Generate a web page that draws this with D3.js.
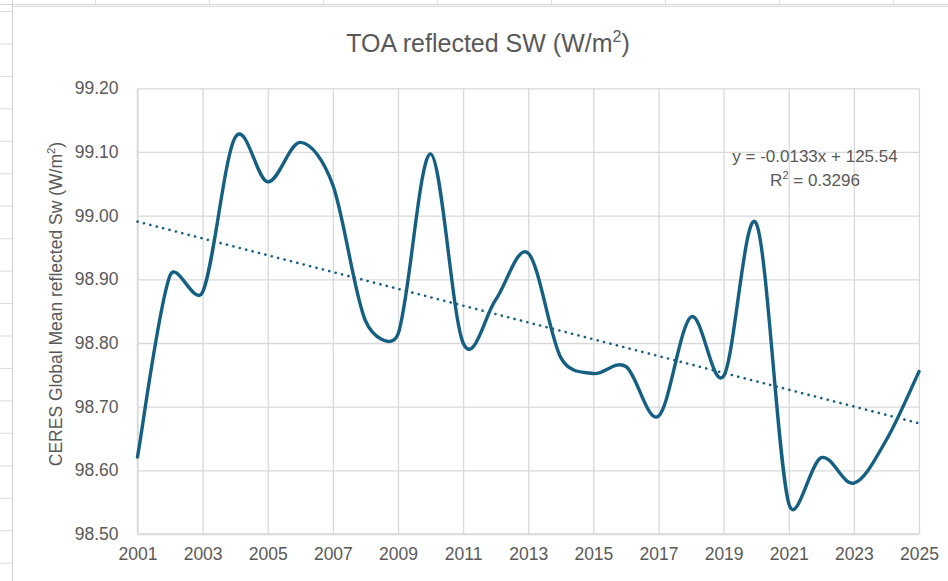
<!DOCTYPE html>
<html>
<head>
<meta charset="utf-8">
<script src="https://cdn.jsdelivr.net/npm/d3@7/dist/d3.min.js"></script>
<style>
  html, body { margin: 0; padding: 0; background: #ffffff; }
  svg { display: block; }
  text { font-family: "Liberation Sans", Arial, sans-serif; fill: #595959; }
</style>
</head>
<body>
<svg id="chart" width="948" height="581"></svg>
<script>
// ---- data ----
const years = [2001, 2002, 2003, 2004, 2005, 2006, 2007, 2008, 2009, 2010, 2011, 2012, 2013,
               2014, 2015, 2016, 2017, 2018, 2019, 2020, 2021, 2022, 2023, 2024, 2025];
const reflectedSW = [98.621, 98.906, 98.880, 99.123, 99.053, 99.115, 99.048, 98.835, 98.814, 99.097,
                     98.800, 98.868, 98.941, 98.777, 98.752, 98.763, 98.685, 98.841, 98.748, 98.988,
                     98.548, 98.620, 98.580, 98.648, 98.755];
const yTicks = [98.50, 98.60, 98.70, 98.80, 98.90, 99.00, 99.10, 99.20];
const xTicks = [2001, 2003, 2005, 2007, 2009, 2011, 2013, 2015, 2017, 2019, 2021, 2023, 2025];
const titleText = "TOA reflected SW (W/m";
const yLabelText = "CERES Global Mean reflected Sw (W/m";
const equationText = "y = -0.0133x + 125.54";
const r2Text = "= 0.3296";

// ---- layout ----
const W = 948, H = 581;
const plot = { left: 137.5, right: 919, top: 88.3, bottom: 534 };
const lineColor = "#156082";
const gridColor = "#d9d9d9";

// Excel-style smoothed line as a d3 curve (Bezier with Catmull-Rom tangents, clamped)
function ExcelSmooth(context) { this._context = context; }
ExcelSmooth.prototype = {
  areaStart() { this._line = 0; },
  areaEnd() { this._line = NaN; },
  lineStart() { this._pts = []; },
  point(x, y) { this._pts.push([+x, +y]); },
  lineEnd() {
    const p = this._pts, c = this._context, n = p.length;
    if (!n) return;
    c.moveTo(p[0][0], p[0][1]);
    const dist = (a, b) => Math.hypot(b[0] - a[0], b[1] - a[1]);
    for (let i = 0; i < n - 1; i++) {
      const p0 = p[i - 1] || p[i], p1 = p[i], p2 = p[i + 1], p3 = p[i + 2] || p[i + 1];
      const d12 = dist(p1, p2), d02 = dist(p0, p2), d13 = dist(p1, p3);
      let f0 = 1 / 6, f1 = 1 / 6;
      if (d02 / 6 >= d12 / 2 && d02 > 0) f0 = d12 / d02 / 2;
      if (d13 / 6 >= d12 / 2 && d13 > 0) f1 = d12 / d13 / 2;
      c.bezierCurveTo(
        p1[0] + (p2[0] - p0[0]) * f0, p1[1] + (p2[1] - p0[1]) * f0,
        p2[0] - (p3[0] - p1[0]) * f1, p2[1] - (p3[1] - p1[1]) * f1,
        p2[0], p2[1]);
    }
  }
};
const curveExcel = ctx => new ExcelSmooth(ctx);

const svg = d3.select("#chart");
svg.append("rect").attr("width", W).attr("height", H).attr("fill", "#ffffff");

// spreadsheet cell lines around the chart object
const sheet = svg.append("g");
sheet.append("line").attr("x1", 0).attr("x2", W).attr("y1", 4.5).attr("y2", 4.5)
  .attr("stroke", "#d4d4d4").attr("stroke-width", 1);
sheet.append("line").attr("x1", 12.5).attr("x2", W).attr("y1", 6.5).attr("y2", 6.5)
  .attr("stroke", "#d9d9d9").attr("stroke-width", 1);
d3.range(8).forEach(i => {
  sheet.append("line").attr("x1", 95.5 + i * 114).attr("x2", 95.5 + i * 114)
    .attr("y1", 0).attr("y2", 4.5).attr("stroke", "#e0e0e0");
});
sheet.append("line").attr("x1", 12.5).attr("x2", 12.5).attr("y1", 0).attr("y2", H)
  .attr("stroke", "#d0d0d0").attr("stroke-width", 1);
d3.range(18).forEach(i => {
  sheet.append("line").attr("x1", 0).attr("x2", 12).attr("y1", 11.5 + i * 32.45).attr("y2", 11.5 + i * 32.45)
    .attr("stroke", "#dcdcdc").attr("stroke-width", 1);
});

// ---- scales ----
const x = d3.scaleLinear().domain([2001, 2025]).range([plot.left, plot.right]);
const y = d3.scaleLinear().domain([98.5, 99.2]).range([plot.bottom, plot.top]);

// gridlines via axes
svg.append("g")
  .attr("transform", `translate(0,${plot.bottom})`)
  .call(d3.axisBottom(x).tickValues(xTicks).tickSize(-(plot.bottom - plot.top)).tickFormat(""))
  .call(g => g.select(".domain").remove())
  .call(g => g.selectAll("line").attr("stroke", gridColor).attr("stroke-width", 1.3));

svg.append("g")
  .attr("transform", `translate(${plot.left},0)`)
  .call(d3.axisLeft(y).tickValues(yTicks).tickSize(-(plot.right - plot.left)).tickFormat(""))
  .call(g => g.select(".domain").remove())
  .call(g => g.selectAll("line").attr("stroke", gridColor).attr("stroke-width", 1.3));

// axis labels
svg.append("g")
  .attr("transform", `translate(0,${plot.bottom})`)
  .call(d3.axisBottom(x).tickValues(xTicks).tickSize(0).tickPadding(14).tickFormat(d3.format("d")))
  .call(g => g.select(".domain").remove())
  .call(g => g.selectAll("text").attr("font-size", 17.5).attr("fill", "#595959")
    .attr("font-family", "'Liberation Sans', Arial, sans-serif"));

svg.append("g")
  .attr("transform", `translate(${plot.left},0)`)
  .call(d3.axisLeft(y).tickValues(yTicks).tickSize(0).tickPadding(19).tickFormat(d3.format(".2f")))
  .call(g => g.select(".domain").remove())
  .call(g => g.selectAll("text").attr("font-size", 17.5).attr("fill", "#595959")
    .attr("font-family", "'Liberation Sans', Arial, sans-serif"));

// axis lines (bottom + left)
svg.append("line").attr("x1", plot.left).attr("x2", plot.right).attr("y1", plot.bottom).attr("y2", plot.bottom)
  .attr("stroke", gridColor).attr("stroke-width", 1.5);
svg.append("line").attr("x1", plot.left).attr("x2", plot.left).attr("y1", plot.top).attr("y2", plot.bottom)
  .attr("stroke", gridColor).attr("stroke-width", 1.5);

// ---- trendline (least squares) ----
const n = years.length;
const mx = d3.mean(years), my = d3.mean(reflectedSW);
let sxy = 0, sxx = 0;
years.forEach((t, i) => { sxy += (t - mx) * (reflectedSW[i] - my); sxx += (t - mx) * (t - mx); });
const slope = sxy / sxx, intercept = my - slope * mx;
const trendPts = [years[0], years[n - 1]].map(t => [t, intercept + slope * t]);

svg.append("path")
  .datum(trendPts)
  .attr("d", d3.line().x(d => x(d[0])).y(d => y(d[1])))
  .attr("fill", "none")
  .attr("stroke", lineColor)
  .attr("stroke-width", 2.6)
  .attr("stroke-linecap", "round")
  .attr("stroke-dasharray", "0.1 6.5");

// ---- smoothed series ----
svg.append("path")
  .datum(years.map((t, i) => [t, reflectedSW[i]]))
  .attr("d", d3.line().x(d => x(d[0])).y(d => y(d[1])).curve(curveExcel))
  .attr("fill", "none")
  .attr("stroke", lineColor)
  .attr("stroke-width", 3.4)
  .attr("stroke-linejoin", "round")
  .attr("stroke-linecap", "round");

// ---- title ----
const title = svg.append("text").attr("x", 488).attr("y", 52).attr("text-anchor", "middle")
  .attr("font-size", 25).attr("fill", "#595959");
title.append("tspan").text(titleText);
title.append("tspan").attr("font-size", 16).attr("dy", -10).text("2");
title.append("tspan").attr("dy", 10).text(")");

// ---- y axis title ----
const yl = svg.append("text")
  .attr("transform", `translate(62,304) rotate(-90)`)
  .attr("text-anchor", "middle").attr("font-size", 17.5).attr("fill", "#595959");
yl.append("tspan").text(yLabelText);
yl.append("tspan").attr("font-size", 11.5).attr("dy", -7).text("2");
yl.append("tspan").attr("dy", 7).text(")");

// ---- equation ----
svg.append("text").attr("x", 815).attr("y", 162).attr("text-anchor", "middle")
  .attr("font-size", 17).attr("fill", "#595959").text(equationText);
const r2 = svg.append("text").attr("x", 815).attr("y", 186).attr("text-anchor", "middle")
  .attr("font-size", 17).attr("fill", "#595959");
r2.append("tspan").text("R");
r2.append("tspan").attr("font-size", 11).attr("dy", -7).text("2");
r2.append("tspan").attr("dy", 7).text(" " + r2Text);
</script>
</body>
</html>
